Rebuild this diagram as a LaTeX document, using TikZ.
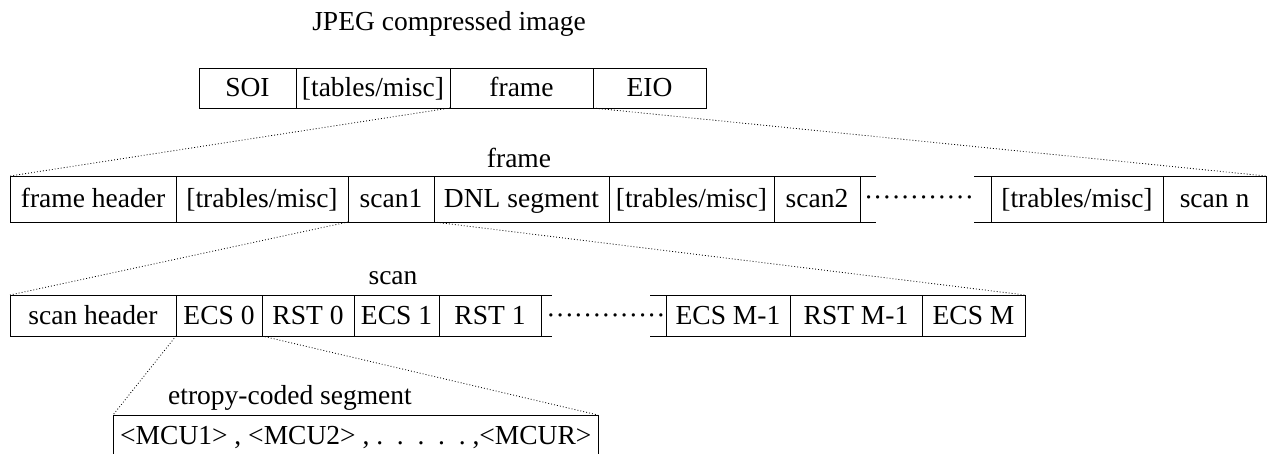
\documentclass[tikz,border=0pt]{standalone}
\usepackage{fontspec}
\setmainfont{Liberation Serif}
\begin{document}
\begin{tikzpicture}[x=1pt,y=-1pt,
  every node/.style={font=\fontsize{27.5}{32}\selectfont},
  cell/.style={draw, line width=0.8pt, inner sep=0pt, outer sep=0pt, anchor=north west, text height=21pt, text depth=4pt},
  edge/.style={line width=0.8pt},
  conn/.style={line width=0.8pt, dash pattern=on 0.9pt off 2.1pt},
  lbl/.style={inner sep=0pt}]
\useasboundingbox (0,0) rectangle (1268,454);
% title
\node[lbl] (title) at (449,24) {JPEG compressed image};
% row 1
\begin{scope}[every node/.append style={minimum height=40}]
\node[cell, minimum width=97]  (soi)  at (199,68) {SOI};
\node[cell, minimum width=154] (tm1)  at (296,68) {[tables/misc]};
\node[cell, minimum width=143] (frm)  at (450,68) {frame};
\node[cell, minimum width=113] (eio)  at (593,68) {EIO};
\end{scope}
% row 2
\node[lbl] (flbl) at (519,158) {frame};
\begin{scope}[every node/.append style={minimum height=46}]
\node[cell, minimum width=166] (fh)   at (10,176)   {frame header};
\node[cell, minimum width=172] (tm2)  at (176,176) {[trables/misc]};
\node[cell, minimum width=86]  (sc1)  at (348,176) {scan1};
\node[cell, minimum width=175] (dnl)  at (434,176) {DNL segment};
\node[cell, minimum width=165] (tm3)  at (609,176) {[trables/misc]};
\node[cell, minimum width=86]  (sc2)  at (774,176) {scan2};
\node[cell, minimum width=172] (tm4)  at (991,176) {[trables/misc]};
\node[cell, minimum width=103] (scn)  at (1163,176) {scan n};
\end{scope}
\draw[edge] (sc2.north east) -- ++(16,0);
\draw[edge] (sc2.south east) -- ++(16,0);
\draw[edge] (tm4.north west) -- ++(-17,0);
\draw[edge] (tm4.south west) -- ++(-17,0);
\node[lbl] (dots2) at (919,201) {\textperiodcentered\textperiodcentered\textperiodcentered\textperiodcentered\textperiodcentered\textperiodcentered\textperiodcentered\textperiodcentered\textperiodcentered\textperiodcentered\textperiodcentered\textperiodcentered};
% row 3
\node[lbl] (slbl) at (393,278) {scan};
\begin{scope}[every node/.append style={minimum height=41}]
\node[cell, minimum width=166] (sh)   at (10,295)  {scan header};
\node[cell, minimum width=86]  (e0)   at (176,295) {ECS 0};
\node[cell, minimum width=92]  (r0)   at (262,295) {RST 0};
\node[cell, minimum width=85]  (e1)   at (354,295) {ECS 1};
\node[cell, minimum width=102] (r1)   at (439,295) {RST 1};
\node[cell, minimum width=124] (em1)  at (666,295) {ECS M-1};
\node[cell, minimum width=132] (rm1)  at (790,295) {RST M-1};
\node[cell, minimum width=103] (em)   at (922,295) {ECS M};
\end{scope}
\draw[edge] (r1.north east) -- ++(11,0);
\draw[edge] (r1.south east) -- ++(11,0);
\draw[edge] (em1.north west) -- ++(-16,0);
\draw[edge] (em1.south west) -- ++(-16,0);
\node[lbl] (dots3) at (606,319) {\textperiodcentered\textperiodcentered\textperiodcentered\textperiodcentered\textperiodcentered\textperiodcentered\textperiodcentered\textperiodcentered\textperiodcentered\textperiodcentered\textperiodcentered\textperiodcentered\textperiodcentered};
% row 4
\node[lbl] (elbl) at (290,398) {etropy-coded segment};
\node[inner sep=0pt, outer sep=0pt, minimum width=485, minimum height=39, anchor=north west] (mcu) at (113,415) {};
\draw[edge] (mcu.south west) -- (mcu.north west) -- (mcu.north east) -- (mcu.south east);
\node[lbl, anchor=west] (mcut) at (120,438) {<MCU1> , <MCU2> , .\ \ .\ \ .\ \ .\ \ .\ ,<MCUR>};
% connectors
\draw[conn] (frm.south west) -- (fh.north west);
\draw[conn] (frm.south east) -- (scn.north east);
\draw[conn] (sc1.south west) -- (sh.north west);
\draw[conn] (sc1.south east) -- (em.north east);
\draw[conn] (e0.south west) -- (mcu.north west);
\draw[conn] (e0.south east) -- (mcu.north east);
\end{tikzpicture}
\end{document}
